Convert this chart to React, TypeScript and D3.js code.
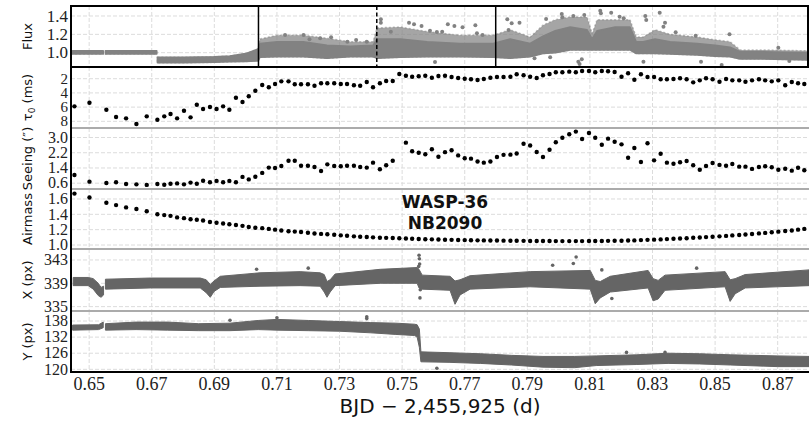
import React from "react";
import * as d3 from "d3";

// ---------- data ----------
const xTickVals = [0.65, 0.67, 0.69, 0.71, 0.73, 0.75, 0.77, 0.79, 0.81, 0.83, 0.85, 0.87];

// observation times for tau0 / seeing / airmass (BJD - 2455925)
const obsT = [0.6453,0.6501,0.6555,0.6586,0.6618,0.6651,0.6684,0.6718,0.6740,0.6760,0.6781,0.6803,0.6824,0.6844,0.6864,0.6886,0.6907,0.6928,0.6948,0.6969,0.6990,0.7010,0.7031,0.7053,0.7074,0.7094,0.7114,0.7137,0.7157,0.7177,0.7199,0.7220,0.7241,0.7261,0.7283,0.7304,0.7324,0.7346,0.7366,0.7387,0.7407,0.7429,0.7449,0.7470,0.7491,0.7512,0.7532,0.7553,0.7574,0.7595,0.7616,
  0.7637,0.7658,0.7679,0.7700,0.7720,0.7741,0.7761,0.7782,0.7803,0.7824,0.7846,0.7866,0.7888,0.7909,0.7930,0.7950,0.7971,0.7991,0.8012,0.8034,0.8055,0.8075,0.8097,0.8117,0.8138,0.8158,0.8179,0.8201,0.8222,0.8242,0.8263,0.8284,0.8305,0.8326,0.8346,0.8367,0.8388,0.8409,0.8430,0.8451,0.8471,0.8492,0.8514,0.8535,0.8555,0.8577,0.8597,0.8618,0.8640,0.8660,0.8681,0.8702,0.8724,0.8745,0.8765,0.8785];

const tau0 = [5.89,5.38,6.37,7.39,7.58,8.38,7.30,7.77,7.30,6.97,7.58,6.51,7.44,5.66,6.27,5.99,6.27,5.89,6.37,4.68,5.28,4.48,3.69,2.89,3.21,2.75,2.37,2.37,2.79,2.79,2.79,2.99,2.65,2.65,2.65,2.75,2.75,2.93,2.99,2.46,3.21,2.65,2.32,2.32,1.34,1.58,1.72,1.66,1.58,1.86,1.62,
  1.58,1.76,1.90,2.00,2.08,2.18,2.04,1.86,1.76,1.76,1.72,1.38,1.52,1.72,1.90,1.52,1.34,1.10,1.10,1.01,1.10,0.92,0.92,1.10,0.92,0.96,1.06,1.72,1.24,2.14,1.38,1.76,1.76,2.08,2.08,2.04,1.94,2.08,2.51,2.23,1.94,2.08,2.42,2.04,2.23,2.23,2.42,2.23,2.08,2.23,2.37,2.23,2.93,2.46,2.65,2.75];

const seeing: (number | null)[] = [1.03,0.68,0.61,0.65,0.56,0.54,0.51,0.56,0.52,0.57,0.59,0.54,0.63,0.57,0.73,0.65,0.72,0.65,0.72,0.65,0.93,0.80,0.94,1.14,1.42,1.40,1.50,1.78,1.78,1.52,1.52,1.45,1.24,1.59,1.50,1.49,1.52,1.52,1.45,1.42,1.68,1.33,1.54,1.78,null,2.73,2.28,2.20,2.12,2.38,1.99,
  2.23,2.33,2.06,1.91,1.89,1.74,1.68,1.74,1.98,2.09,2.10,2.16,2.67,2.58,2.24,1.98,2.36,2.75,2.99,3.17,3.31,2.92,3.24,2.99,2.62,2.94,2.78,2.64,1.94,2.45,1.71,2.70,1.80,2.15,1.68,1.62,1.70,1.77,1.54,1.31,1.50,1.66,1.56,1.52,1.61,1.47,1.47,1.35,1.45,1.49,1.44,1.31,1.36,1.26,1.41,1.28];

const airmass = [1.67,1.62,1.55,1.52,1.49,1.47,1.44,1.40,1.39,1.38,1.36,1.35,1.335,1.33,1.32,1.30,1.29,1.28,1.27,1.26,1.25,1.235,1.225,1.22,1.21,1.20,1.19,1.18,1.175,1.17,1.16,1.15,1.145,1.14,1.133,1.126,1.12,1.113,1.108,1.104,1.10,1.095,1.093,1.091,1.088,1.085,1.082,1.079,1.076,1.074,1.072,
  1.069,1.067,1.065,1.064,1.063,1.061,1.060,1.059,1.058,1.057,1.056,1.055,1.054,1.053,1.053,1.052,1.052,1.051,1.051,1.051,1.051,1.051,1.052,1.052,1.053,1.054,1.055,1.056,1.058,1.060,1.064,1.067,1.070,1.073,1.077,1.081,1.085,1.089,1.094,1.098,1.103,1.108,1.113,1.119,1.125,1.131,1.137,1.144,1.151,1.158,1.166,1.174,1.182,1.19,1.20,1.21];

// dense light curve: envelope of the point cloud (null = gap);
// fluxCoreHi = top of the dense core, fluxBandHi = top of the sparse scatter
const fluxBandT = [0.6447,0.6545,null,0.6552,0.6716,null,0.6718,0.6800,0.6900,0.6950,0.7000,0.7040,0.7046,0.7101,0.7184,0.7260,0.7334,0.7407,0.7420,0.7494,0.7580,0.7685,0.7791,0.7845,0.7909,0.7950,0.7989,0.8037,0.8091,0.8107,0.8123,0.8181,0.8228,0.8248,0.8270,0.8308,0.8356,0.8443,0.8500,0.8548,0.8580,0.8653,0.8800];
const fluxBandLo = [0.985,0.985,null,0.985,0.985,null,0.89,0.89,0.895,0.90,0.905,0.91,0.95,0.956,0.956,0.94,0.956,0.956,0.94,0.95,0.956,0.956,0.95,0.94,0.956,0.99,1.00,1.03,1.03,1.03,1.03,1.03,1.03,0.99,0.99,0.99,0.985,0.975,0.96,0.956,0.93,0.93,0.92];
const fluxCoreHi = [1.02,1.02,null,1.02,1.02,null,0.95,0.95,0.955,0.965,0.99,1.04,1.10,1.12,1.12,1.08,1.07,1.08,1.15,1.15,1.12,1.10,1.10,1.15,1.10,1.18,1.24,1.28,1.25,1.15,1.24,1.28,1.28,1.12,1.12,1.15,1.12,1.10,1.08,1.06,1.01,1.01,1.00];
const fluxBandHi = [1.02,1.02,null,1.02,1.02,null,0.95,0.95,0.955,0.965,0.99,1.04,1.15,1.19,1.19,1.157,1.12,1.12,1.27,1.28,1.23,1.19,1.19,1.25,1.17,1.30,1.36,1.39,1.39,1.21,1.36,1.36,1.36,1.17,1.17,1.25,1.20,1.17,1.14,1.12,1.03,1.03,1.02];
const fluxOutT = [0.7126,0.7185,0.7204,0.7238,0.7273,0.7325,0.7353,0.7387,0.7432,0.7432,0.7464,0.7522,0.7538,0.7562,0.7589,0.7611,0.7628,0.7646,0.7667,0.7693,0.7734,0.7739,0.7757,0.7605,0.7836,0.7850,0.7875,0.7840,0.7960,0.8010,0.8012,0.8047,0.8082,0.8133,0.8135,0.8168,0.8195,0.8208,0.8277,0.8280,0.8323,0.8340,0.8335,0.8374,0.8438,0.8546,0.8702,0.7923,0.7973,0.8063,0.8067,0.8074,0.8271,0.8455,0.8521,0.8737];
const fluxOutV = [1.193,1.193,1.146,1.157,1.168,1.12,1.138,1.12,1.364,1.327,1.229,1.327,1.31,1.291,1.24,1.226,1.229,1.31,1.291,1.277,1.299,1.212,1.193,0.899,1.364,1.32,1.327,1.248,1.367,1.422,1.386,1.40,1.411,1.458,1.43,1.436,1.393,1.375,1.40,1.357,1.436,1.327,1.284,1.222,1.185,1.20,1.055,0.939,0.95,0.902,0.877,0.928,0.902,0.902,0.866,0.91];

const xBandT = [0.6449,0.6497,0.6513,0.6529,0.6538,0.6546,null,0.6552,0.6695,0.6855,0.6874,0.6887,0.6899,0.6919,0.7046,0.7174,0.7238,0.7251,0.7260,0.7270,0.7286,0.7430,0.7548,0.7554,0.7564,0.7653,0.7669,0.7685,0.7717,0.7909,0.8101,0.8117,0.8133,0.8165,0.8286,0.8302,0.8318,0.8340,0.8532,0.8548,0.8564,0.8596,0.8800];
const xBandLo = [338.6,338.6,338.0,336.9,336.6,337.0,null,338.0,338.2,338.2,337.4,336.6,337.6,338.3,338.5,338.6,338.5,337.5,336.6,337.5,338.6,339.0,339.0,338.2,338.0,337.8,335.4,337.0,338.0,338.4,338.0,335.5,336.5,337.5,338.2,336.0,336.3,337.8,338.4,335.9,337.2,338.2,338.6];
const xBandHi = [340.0,340.0,339.8,339.0,338.3,338.5,null,339.7,339.9,339.9,339.6,338.8,339.4,340.2,340.8,341.0,340.8,340.5,339.3,339.6,340.6,341.4,341.7,341.4,340.4,340.2,339.4,339.6,340.3,341.0,341.2,339.5,339.3,340.2,341.2,339.8,339.5,340.4,341.0,339.6,339.8,340.5,341.3];
const xOutT = [0.7554,0.7555,0.7556,0.7553,0.7558,0.7557,0.7035,0.7981,0.8047,0.8056,0.8138,0.8441,0.8170,0.7200,0.7680];
const xOutV = [343.8,343.2,342.3,341.9,337.9,336.5,341.4,342.1,342.4,343.5,341.3,341.6,336.4,341.6,337.3];

const yBandT = [0.6447,0.6530,0.6545,null,0.6552,0.6650,0.6750,0.6850,0.6950,0.7040,0.7100,0.7200,0.7300,0.7400,0.7480,0.7540,0.7548,0.7555,0.7560,0.7650,0.7750,0.7850,0.7950,0.8050,0.8120,0.8250,0.8350,0.8450,0.8550,0.8700,0.8800];
const yBandLo = [134.6,134.8,135.5,null,134.6,134.8,134.6,134.4,134.4,134.8,134.6,134.4,134.2,133.6,133.0,132.6,132.0,128.2,122.8,122.6,122.2,121.6,120.8,120.6,121.4,121.8,122.2,122.0,121.6,121.0,121.0];
const yBandHi = [136.5,136.6,137.6,null,137.0,137.6,137.6,137.0,137.2,138.2,138.6,138.2,137.8,137.4,137.2,136.8,136.6,135.0,126.5,126.2,125.8,125.2,124.8,124.8,125.0,125.4,126.0,125.8,125.4,125.0,124.8];
const yOutT = [0.7387,0.7387,0.7611,0.8217,0.8340,0.8047,0.6950,0.7100];
const yOutV = [139.6,138.9,120.4,126.3,126.3,124.1,138.3,139.2];

// vertical markers in the flux panel
const markerT = [0.7041, 0.7419, 0.7799];
const markerDash = [false, true, false];

const fluxTicks = ["1.0", "1.2", "1.4"];
const tauTicks = ["2", "4", "6", "8"];
const seeTicks = ["3.0", "2.2", "1.4", "0.6"];
const airTicks = ["1.6", "1.4", "1.2", "1.0"];
const xpxTicks = ["343", "339", "335"];
const ypxTicks = ["138", "132", "126", "120"];

// ---------- layout ----------
const W = 809, H = 425;
const L = 71, R = 809;
const serif = "'Liberation Serif', 'DejaVu Serif', serif";
const sans = "'DejaVu Sans', sans-serif";

type Band = { t: number | null; lo: number | null; hi: number | null };
const zipBand = (t: (number | null)[], lo: (number | null)[], hi: (number | null)[]): Band[] =>
  t.map((v, i) => ({ t: v, lo: lo[i], hi: hi[i] }));

export default function App() {
  const x = d3.scaleLinear().domain([0.6442, 0.88]).range([L, R]);

  const panels = [
    { key: "flux", top: 6, bot: 67, y: d3.scaleLinear().domain([0.844, 1.509]).range([67, 6]), ticks: fluxTicks, label: "Flux", fs: 17 },
    { key: "tau", top: 67, bot: 128, y: d3.scaleLinear().domain([0.352, 8.94]).range([67, 128]), ticks: tauTicks, label: "tau", fs: 15 },
    { key: "see", top: 128, bot: 189, y: d3.scaleLinear().domain([0.295, 3.5]).range([189, 128]), ticks: seeTicks, label: "Seeing (″)", fs: 16 },
    { key: "air", top: 189, bot: 249, y: d3.scaleLinear().domain([0.948, 1.73]).range([249, 189]), ticks: airTicks, label: "Airmass", fs: 16 },
    { key: "xpx", top: 249, bot: 311, y: d3.scaleLinear().domain([334.25, 344.88]).range([311, 249]), ticks: xpxTicks, label: "X (px)", fs: 16 },
    { key: "ypx", top: 311, bot: 372, y: d3.scaleLinear().domain([119.0, 141.73]).range([372, 311]), ticks: ypxTicks, label: "Y (px)", fs: 16 },
  ];
  const P: Record<string, any> = {};
  panels.forEach((p) => (P[p.key] = p));

  const bandPath = (data: Band[], y: d3.ScaleLinear<number, number>) =>
    d3.area<Band>()
      .defined((d) => d.t !== null)
      .x((d) => x(d.t as number))
      .y0((d) => y(d.lo as number))
      .y1((d) => y(d.hi as number))(data) || "";

  const fluxSparse = zipBand(fluxBandT, fluxBandLo, fluxBandHi);
  const fluxCore = zipBand(fluxBandT, fluxBandLo, fluxCoreHi);
  const xBand = zipBand(xBandT, xBandLo, xBandHi);
  const yBand = zipBand(yBandT, yBandLo, yBandHi);

  const gridColor = "#dcdcdc";
  const fluxColor = "#828282";
  const pxColor = "#656565";

  return (
    <svg width={W} height={H} style={{ position: "absolute", left: 0, top: 0, background: "#fff" }}>
      <defs>
        {panels.map((p) => (
          <clipPath id={"clip-" + p.key} key={p.key}>
            <rect x={L} y={p.top} width={R - L} height={p.bot - p.top} />
          </clipPath>
        ))}
      </defs>
      <rect x={0} y={0} width={W} height={H} fill="#fff" />

      {/* grid */}
      {panels.map((p) => (
        <g key={"g" + p.key}>
          {xTickVals.map((t) => (
            <line key={t} x1={x(t)} x2={x(t)} y1={p.top} y2={p.bot} stroke={gridColor} strokeWidth={1} strokeDasharray="4,2" />
          ))}
          {p.ticks.map((tk: string) => (
            <line key={tk} x1={L} x2={R} y1={p.y(+tk)} y2={p.y(+tk)} stroke={gridColor} strokeWidth={1} strokeDasharray="4,2" />
          ))}
        </g>
      ))}

      {/* flux */}
      <g clipPath="url(#clip-flux)">
        <path d={bandPath(fluxSparse, P.flux.y)} fill={fluxColor} fillOpacity={0.72} stroke={fluxColor} strokeOpacity={0.5} strokeWidth={1.5} strokeDasharray="2,2" />
        <path d={bandPath(fluxCore, P.flux.y)} fill={fluxColor} stroke={fluxColor} strokeWidth={1.5} strokeLinejoin="round" />
        {fluxOutT.map((t, i) => (
          <circle key={i} cx={x(t)} cy={P.flux.y(fluxOutV[i])} r={2} fill={fluxColor} />
        ))}
        {markerT.map((t, i) => (
          <line key={"m" + i} x1={x(t)} x2={x(t)} y1={6} y2={67} stroke="#000" strokeWidth={1.5} strokeDasharray={markerDash[i] ? "4,2.5" : undefined} />
        ))}
      </g>

      {/* tau0 */}
      <g clipPath="url(#clip-tau)">
        {obsT.map((t, i) => (
          <circle key={i} cx={x(t)} cy={P.tau.y(tau0[i])} r={2.2} fill="#000" />
        ))}
      </g>
      {/* seeing */}
      <g clipPath="url(#clip-see)">
        {obsT.map((t, i) =>
          seeing[i] === null ? null : <circle key={i} cx={x(t)} cy={P.see.y(seeing[i] as number)} r={2.2} fill="#000" />
        )}
      </g>
      {/* airmass */}
      <g clipPath="url(#clip-air)">
        {obsT.map((t, i) => (
          <circle key={i} cx={x(t)} cy={P.air.y(airmass[i])} r={2.2} fill="#000" />
        ))}
      </g>
      {/* X px */}
      <g clipPath="url(#clip-xpx)">
        <path d={bandPath(xBand, P.xpx.y)} fill={pxColor} stroke={pxColor} strokeWidth={1} strokeLinejoin="round" />
        {xOutT.map((t, i) => (
          <circle key={i} cx={x(t)} cy={P.xpx.y(xOutV[i])} r={1.8} fill={pxColor} />
        ))}
      </g>
      {/* Y px */}
      <g clipPath="url(#clip-ypx)">
        <path d={bandPath(yBand, P.ypx.y)} fill={pxColor} stroke={pxColor} strokeWidth={1} strokeLinejoin="round" />
        {yOutT.map((t, i) => (
          <circle key={i} cx={x(t)} cy={P.ypx.y(yOutV[i])} r={1.8} fill={pxColor} />
        ))}
      </g>

      {/* separators */}
      {[128, 189, 249, 311].map((yy) => (
        <line key={yy} x1={L} x2={R} y1={yy} y2={yy} stroke="#ababab" strokeWidth={2} />
      ))}
      {/* flux box */}
      <rect x={L} y={6} width={R - L - 1} height={61} fill="none" stroke="#000" strokeWidth={2} />
      {/* axes */}
      <line x1={L} x2={L} y1={6} y2={373} stroke="#000" strokeWidth={2} />
      <line x1={L} x2={R} y1={372} y2={372} stroke="#000" strokeWidth={2} />

      {/* y tick labels */}
      {panels.map((p) => (
        <g key={"t" + p.key}>
          {p.ticks.map((tk: string) => (
            <text key={tk} x={68} y={p.y(+tk)} dy="0.33em" textAnchor="end" fontFamily={serif} fontSize={p.fs} fill="#222">
              {tk}
            </text>
          ))}
        </g>
      ))}
      {/* x tick labels */}
      {xTickVals.map((t) => (
        <text key={t} x={x(t)} y={390} textAnchor="middle" fontFamily={serif} fontSize={18} fill="#222">
          {t.toFixed(2)}
        </text>
      ))}

      {/* y labels */}
      {panels.map((p) => (
        <text
          key={"l" + p.key}
          transform={`translate(32,${(p.top + p.bot) / 2}) rotate(-90)`}
          textAnchor="middle"
          fontFamily={sans}
          fontSize={13}
          fill="#111"
        >
          {p.key === "tau" ? (
            <>
              τ<tspan fontSize={9} dy={3}>0</tspan>
              <tspan dy={-3}> (ms)</tspan>
            </>
          ) : (
            p.label
          )}
        </text>
      ))}

      {/* x label */}
      <text x={(L + R) / 2} y={413} textAnchor="middle" fontFamily={sans} fontSize={20} fill="#111">
        BJD − 2,455,925 (d)
      </text>

      {/* annotation */}
      <text x={445} y={207.5} textAnchor="middle" fontFamily={sans} fontWeight="bold" fontSize={17} fill="#111">
        WASP-36
      </text>
      <text x={445} y={228.5} textAnchor="middle" fontFamily={sans} fontWeight="bold" fontSize={17} fill="#111">
        NB2090
      </text>
    </svg>
  );
}
